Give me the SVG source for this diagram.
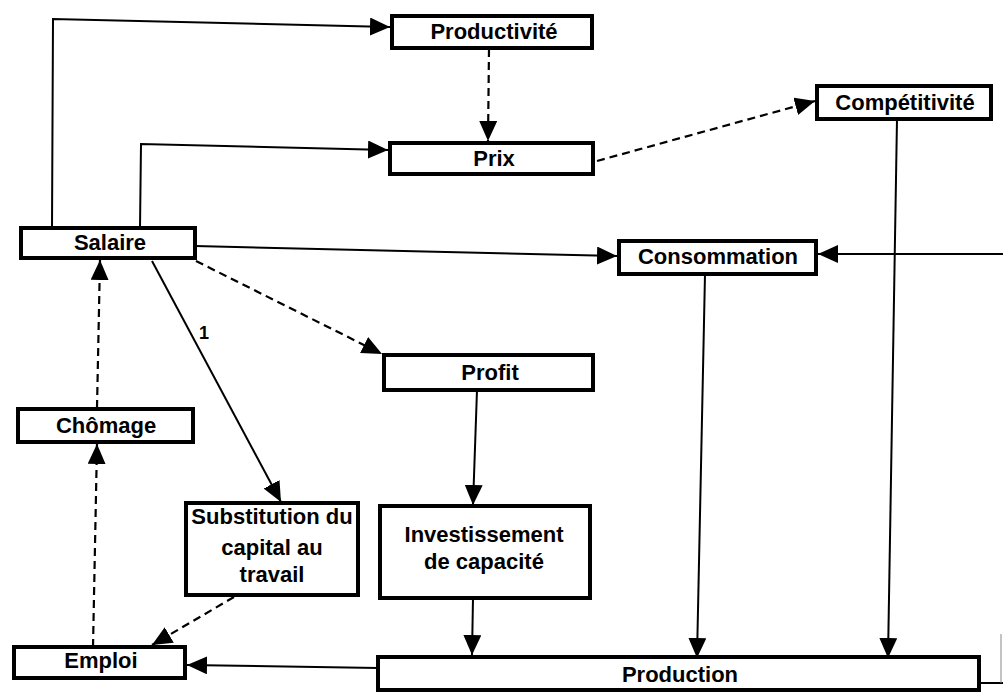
<svg xmlns="http://www.w3.org/2000/svg" width="1003" height="694" viewBox="0 0 1003 694">
<defs>
<marker id="ah" markerUnits="userSpaceOnUse" markerWidth="21" markerHeight="19" refX="20" refY="9" orient="auto">
<path d="M0,0 L20,9 L0,18 z" fill="#000" stroke="none"/>
</marker>
<style>
.box{fill:#fff;stroke:#000;stroke-width:4}
.lbl{font-family:"Liberation Sans",Arial,sans-serif;font-weight:bold;font-size:22px;fill:#000;text-anchor:middle}
.ln{fill:none;stroke:#000;stroke-width:2}
.dash{fill:none;stroke:#000;stroke-width:2.2;stroke-dasharray:8,5}
.arr{marker-end:url(#ah)}
</style>
</defs>
<rect width="1003" height="694" fill="#fff"/>
<g id="connectors">
<path class="ln arr" d="M52,228 L53,19 L390,27"/>
<path class="ln arr" d="M140,228 L141,144 L388,150"/>
<path class="dash arr" d="M489,49 L488,141"/>
<path class="dash arr" d="M597,161 L815,101"/>
<path class="ln arr" d="M195,246 L617,256"/>
<path class="ln arr" d="M1003,254 L818,254"/>
<path class="ln arr" d="M897,119 L888,658"/>
<path class="ln arr" d="M705,274 L697,658"/>
<path class="dash arr" d="M196,261 L382,354"/>
<path class="ln arr" d="M152,261 L281,502"/>
<path class="ln arr" d="M477,390 L473,505"/>
<path class="ln arr" d="M473,598 L472,655"/>
<path class="ln arr" d="M378,668 L187,665"/>
<path class="dash arr" d="M234,597 L152,645"/>
<path class="dash arr" d="M97,408 L100,260"/>
<path class="dash arr" d="M93,647 L97,444"/>
<path class="ln" d="M979,683 L1003,683"/>
<path d="M1001,683 L1001,634" fill="none" stroke="#888" stroke-width="1"/>
<text class="lbl" x="204" y="339" style="font-size:18px">1</text>
</g>
<g id="productivite"><rect class="box" x="392" y="16" width="200" height="32"/><text class="lbl" x="494" y="39">Productivité</text></g>
<g id="prix"><rect class="box" x="390" y="143" width="203" height="31"/><text class="lbl" x="494" y="166">Prix</text></g>
<g id="competitivite"><rect class="box" x="817" y="86" width="174" height="33"/><text class="lbl" x="905" y="110">Compétitivité</text></g>
<g id="salaire"><rect class="box" x="21" y="228" width="174" height="30"/><text class="lbl" x="110" y="250">Salaire</text></g>
<g id="consommation"><rect class="box" x="619" y="241" width="197" height="33"/><text class="lbl" x="718" y="264">Consommation</text></g>
<g id="profit"><rect class="box" x="384" y="355" width="209" height="35"/><text class="lbl" x="490" y="380">Profit</text></g>
<g id="chomage"><rect class="box" x="18" y="409" width="175" height="33"/><text class="lbl" x="106" y="433">Chômage</text></g>
<g id="substitution"><rect class="box" x="186" y="503" width="172" height="92"/><text class="lbl" x="272" y="524">Substitution du</text><text class="lbl" x="272" y="555">capital au</text><text class="lbl" x="272" y="582">travail</text></g>
<g id="investissement"><rect class="box" x="380" y="506" width="210" height="92"/><text class="lbl" x="484" y="542">Investissement</text><text class="lbl" x="484" y="569">de capacité</text></g>
<g id="emploi"><rect class="box" x="14" y="647" width="171" height="31"/><text class="lbl" x="101" y="668">Emploi</text></g>
<g id="production"><rect class="box" x="378" y="657" width="601" height="33"/><text class="lbl" x="680" y="682">Production</text></g>
</svg>
